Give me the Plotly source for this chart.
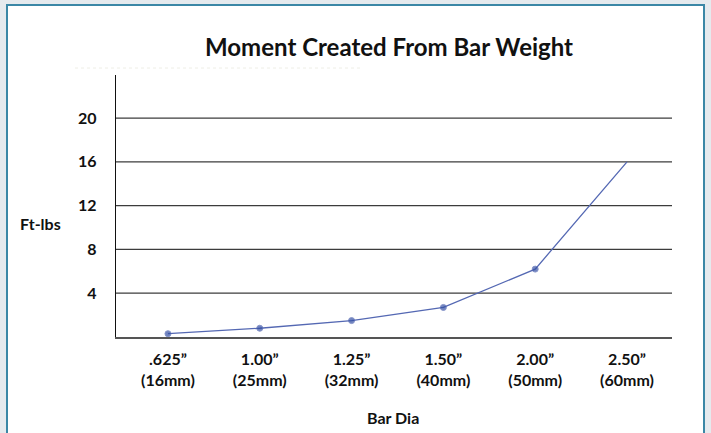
import plotly.graph_objects as go

categories = [".625\u201d<br>(16mm)", "1.00\u201d<br>(25mm)", "1.25\u201d<br>(32mm)",
              "1.50\u201d<br>(40mm)", "2.00\u201d<br>(50mm)", "2.50\u201d<br>(60mm)"]
moment_ftlbs = [0.3, 0.8, 1.5, 2.7, 6.2, 16.0]
marker_sizes = [6, 6, 6, 6, 6, 0]
y_ticks = [4, 8, 12, 16, 20]

W, H = 711, 433
L, R, T, B = 116, 39, 75, 96
PW, PH = W - L - R, H - T - B

def px(x):
    return (x - L) / PW

def py(y):
    return 1 - (y - T) / PH

FONT = "Lato"

fig = go.Figure()
fig.add_trace(go.Scatter(
    x=categories, y=moment_ftlbs, mode="lines+markers",
    line=dict(color="#5468b3", width=1.3),
    marker=dict(color="#3450a4", size=marker_sizes),
    hoverinfo="skip", showlegend=False,
))

shapes = [
    dict(type="rect", xref="paper", yref="paper",
         x0=px(7), x1=px(704), y0=py(440), y1=py(5),
         fillcolor="white", line=dict(color="#3b87a6", width=2), layer="below"),
    dict(type="line", xref="paper", yref="paper",
         x0=px(75), x1=px(360), y0=py(68), y1=py(68),
         line=dict(color="#eeeee6", width=1, dash="dot"), layer="below"),
]
for v in y_ticks:
    shapes.append(dict(type="line", xref="paper", yref="y", x0=0, x1=1, y0=v, y1=v,
                       line=dict(color="#3c3c3c", width=1.3), layer="below"))

fig.update_layout(
    width=W, height=H,
    margin=dict(l=L, r=R, t=T, b=B),
    paper_bgcolor="#e5eaee",
    plot_bgcolor="rgba(0,0,0,0)",
    font=dict(family=FONT, color="#111111", size=16),
    shapes=shapes,
    xaxis=dict(
        type="category", range=[-0.566, 5.49],
        showgrid=False, zeroline=False,
        showline=True, linecolor="#555555", linewidth=2,
        ticks="", ticklabelstandoff=7,
        tickfont=dict(family=FONT, size=16, color="#111111", weight="bold"),
        fixedrange=True,
    ),
    yaxis=dict(
        range=[0, 23.93], tickvals=y_ticks,
        showgrid=False, zeroline=False,
        showline=True, linecolor="#111111", linewidth=1.3,
        ticks="", ticklabelstandoff=15,
        tickfont=dict(family=FONT, size=16, color="#111111", weight="bold"),
        fixedrange=True,
    ),
    annotations=[
        dict(text="<b>Moment Created From Bar Weight</b>", xref="paper", yref="paper",
             x=px(389), y=py(46), showarrow=False, xanchor="center", yanchor="middle",
             font=dict(family=FONT, size=24, color="#111111")),
        dict(text="<b>Ft-lbs</b>", xref="paper", yref="paper",
             x=px(40), y=py(223), showarrow=False, xanchor="center", yanchor="middle",
             font=dict(family=FONT, size=16, color="#111111")),
        dict(text="<b>Bar Dia</b>", xref="paper", yref="paper",
             x=px(393), y=py(417), showarrow=False, xanchor="center", yanchor="middle",
             font=dict(family=FONT, size=16, color="#111111")),
    ],
)

fig.write_html("out.html", config={"displayModeBar": False},
               post_script="document.body.style.margin='0';")
